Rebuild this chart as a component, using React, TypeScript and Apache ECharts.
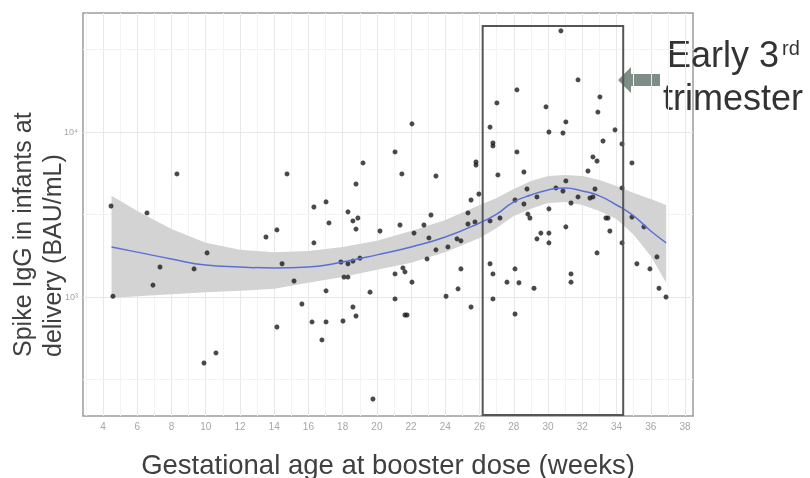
import React, { useEffect, useRef } from 'react';
import * as echarts from 'echarts';

// ---- data ----
const xTickLabels = [4, 6, 8, 10, 12, 14, 16, 18, 20, 22, 24, 26, 28, 30, 32, 34, 36, 38];
const xMinorGrid = [3, 5, 7, 9, 11, 13, 15, 17, 19, 21, 23, 25, 27, 29, 31, 33, 35, 37];
const yTickValues = [1000, 10000];
const yMinorGrid = [316.2, 3162, 31623];

// [gestational age (weeks), spike IgG (BAU/mL)]
const scatterPoints: [number, number][] = [
  [4.47, 3560], [4.58, 1010], [6.57, 3230], [6.92, 1180], [7.33, 1520], [8.32, 5570], [9.32, 1480],
  [10.08, 1850], [9.9, 398], [10.6, 458], [13.52, 2310], [14.16, 2550], [14.75, 5570], [14.46, 1590],
  [15.16, 1250], [14.16, 658], [15.62, 907],
  [16.32, 3510], [16.32, 2130], [17.03, 3770], [17.2, 2810], [17.03, 1090], [16.21, 706], [17.03, 706],
  [16.79, 549], [18.31, 3280], [18.6, 2890], [18.89, 3010], [18.78, 2580], [18.78, 4840], [19.19, 6490],
  [17.9, 1630], [18.31, 1590], [18.6, 1650], [19.01, 1720], [18.08, 1320], [18.31, 1320], [18.02, 715],
  [18.6, 870], [18.78, 767], [19.6, 1070], [19.77, 241], [20.18, 2510], [21.06, 7570], [21.46, 5570],
  [21.35, 2730], [21.06, 1380], [21.52, 1500], [21.64, 1420], [21.06, 973], [21.64, 778], [21.76, 778],
  [22.05, 11200], [22.17, 2440], [22.05, 1230], [22.75, 2730], [23.16, 3140], [23.45, 5410], [23.04, 2280],
  [22.93, 1700], [23.45, 1930], [24.15, 2010], [24.68, 2250], [24.91, 2190], [24.04, 1010], [24.74, 1120],
  [24.91, 1480], [25.5, 870], [25.32, 3230], [25.32, 2770], [25.73, 2850], [25.79, 6580], [25.79, 6310],
  [25.5, 3870], [25.96, 4210],
  [26.61, 10700], [26.78, 8580], [26.78, 8230], [27.01, 15000], [27.07, 5490], [26.61, 2890], [27.19, 3010],
  [26.61, 1590], [26.78, 1380], [26.78, 973], [27.6, 1230], [28.07, 1480], [28.3, 1220], [28.07, 789],
  [28.18, 18000], [28.18, 7570], [28.07, 3870], [28.59, 5720], [28.59, 3660], [28.77, 4510], [28.82, 3180],
  [28.94, 3010], [29.18, 1130], [29.35, 4040], [29.35, 2250], [29.58, 2440], [29.88, 14200], [30.05, 10000],
  [30.05, 3420], [30.05, 2440], [30.05, 2130], [30.46, 4580], [30.75, 41000], [30.87, 9860], [30.87, 4390],
  [31.04, 11500], [31.04, 5050], [31.04, 2660], [31.34, 3710], [31.34, 1380], [31.34, 1230], [31.75, 20700],
  [31.75, 4040], [32.33, 5800], [32.45, 3980], [32.62, 4040], [32.62, 7060], [32.86, 6670], [32.74, 4510],
  [32.86, 1850], [32.91, 13200], [33.03, 16300], [33.21, 8820], [33.38, 3010], [33.5, 3010], [33.61, 2510],
  [33.91, 10300], [34.32, 8460], [34.32, 4580], [34.32, 2130],
  [34.9, 6490], [34.9, 3050], [35.6, 2660], [35.19, 1590], [35.95, 1480], [36.36, 1750], [36.48, 1130],
  [36.89, 1000],
];

// loess fit and its confidence band
const curveWeeks = [4.5, 6, 8, 10, 12, 14, 16, 18, 20, 22, 24, 26, 27, 28, 29, 30, 31, 32, 33, 34, 35, 36, 36.9];
const curveFit = [2010, 1870, 1700, 1560, 1520, 1500, 1520, 1630, 1800, 2010, 2310, 2810, 3180, 3770, 4150, 4450, 4580, 4390, 4100, 3610, 3100, 2510, 2130];
const bandUpper = [4100, 3320, 2580, 2130, 1930, 1870, 1900, 2010, 2190, 2510, 2930, 3610, 3980, 4510, 5050, 5410, 5490, 5410, 5120, 4710, 4270, 3930, 3610];
const bandLower = [986, 1010, 1040, 1070, 1090, 1120, 1220, 1320, 1460, 1610, 1870, 2280, 2620, 3100, 3420, 3710, 3770, 3610, 3320, 2970, 2380, 1770, 1220];

// highlighted window (early 3rd trimester)
const boxWeeks = [26.18, 34.39];
const boxIgG = [193, 43900];

const X_MIN = 2.832;
const X_MAX = 38.467;
const Y_MIN = 190;
const Y_MAX = 52600;

const FONT = '"Liberation Sans", Arial, Helvetica, sans-serif';

export default function App() {
  const ref = useRef<HTMLDivElement>(null);

  useEffect(() => {
    if (!ref.current) return;
    const chart = echarts.init(ref.current, undefined, { renderer: 'svg' });

    const gridLines: any[] = [
      ...xMinorGrid.map((v) => ({ xAxis: v, lineStyle: { color: '#f3f3f3', width: 1, type: 'solid' } })),
      ...xTickLabels.map((v) => ({ xAxis: v, lineStyle: { color: '#e8e8e8', width: 1, type: 'solid' } })),
      ...yMinorGrid.map((v) => ({ yAxis: v, lineStyle: { color: '#f3f3f3', width: 1, type: 'solid' } })),
      ...yTickValues.map((v) => ({ yAxis: v, lineStyle: { color: '#e8e8e8', width: 1, type: 'solid' } })),
    ];

    const option: any = {
      animation: false,
      grid: {
        left: 83,
        right: 117,
        top: 13,
        bottom: 62,
        show: true,
        borderColor: '#9c9c9c',
        borderWidth: 1.5,
      },
      xAxis: {
        type: 'value',
        min: X_MIN,
        max: X_MAX,
        axisLine: { show: false },
        axisTick: { show: false },
        splitLine: { show: false },
        axisLabel: {
          customValues: xTickLabels,
          color: '#a6a6a6',
          fontSize: 10,
          margin: 5,
          fontFamily: FONT,
        },
      },
      yAxis: {
        type: 'log',
        logBase: 10,
        min: Y_MIN,
        max: Y_MAX,
        axisLine: { show: false },
        axisTick: { show: false },
        splitLine: { show: false },
        axisLabel: {
          customValues: yTickValues,
          color: '#a6a6a6',
          fontSize: 9,
          margin: 5,
          fontFamily: FONT,
          formatter: (v: number) => (Math.abs(v - 1000) < 1 ? '10³' : Math.abs(v - 10000) < 1 ? '10⁴' : ''),
        },
      },
      series: [
        {
          type: 'scatter',
          data: [],
          z: 0,
          silent: true,
          markLine: {
            z: 0,
            silent: true,
            symbol: ['none', 'none'],
            label: { show: false },
            animation: false,
            data: gridLines,
          },
        },
        {
          type: 'custom',
          z: 2,
          silent: true,
          data: curveWeeks.map((w, i) => [w, bandUpper[i], bandLower[i]]),
          encode: { x: 0, y: [1, 2] },
          renderItem: (params: any, api: any) => {
            if (params.dataIndex !== 0) return null;
            const up = curveWeeks.map((w, i) => api.coord([w, bandUpper[i]]));
            const lo = curveWeeks.map((w, i) => api.coord([w, bandLower[i]])).reverse();
            return {
              type: 'polygon',
              shape: { points: [...up, ...lo] },
              style: { fill: '#d3d3d3' },
            };
          },
        },
        {
          type: 'scatter',
          z: 3,
          data: scatterPoints,
          symbolSize: 5,
          itemStyle: { color: '#1c1c1c' },
        },
        {
          type: 'line',
          z: 4,
          data: curveWeeks.map((w, i) => [w, curveFit[i]]),
          smooth: true,
          showSymbol: false,
          lineStyle: { color: '#5b70d4', width: 1.5 },
        },
        {
          type: 'scatter',
          data: [],
          z: 5,
          silent: true,
          markArea: {
            z: 5,
            silent: true,
            itemStyle: { color: 'rgba(0,0,0,0)', borderColor: '#555555', borderWidth: 2 },
            data: [[{ coord: [boxWeeks[0], boxIgG[0]] }, { coord: [boxWeeks[1], boxIgG[1]] }]],
          },
        },
      ],
      graphic: [
        {
          type: 'polygon',
          shape: { points: [[618, 80], [631, 67], [631, 74], [660, 74], [660, 86], [631, 86], [631, 93]] },
          style: { fill: '#7d8e86' },
        },
        {
          type: 'text',
          x: 667,
          y: 54,
          style: { text: 'Early 3', font: `36px ${FONT}`, fill: '#333333', textAlign: 'left', textVerticalAlign: 'middle' },
        },
        {
          type: 'text',
          x: 782,
          y: 48,
          style: { text: 'rd', font: `20px ${FONT}`, fill: '#333333', textAlign: 'left', textVerticalAlign: 'middle' },
        },
        {
          type: 'text',
          x: 663,
          y: 97,
          style: { text: 'trimester', font: `36px ${FONT}`, fill: '#333333', textAlign: 'left', textVerticalAlign: 'middle' },
        },
        {
          type: 'text',
          x: 388,
          y: 464,
          style: {
            text: 'Gestational age at booster dose (weeks)',
            font: `27.5px ${FONT}`,
            fill: '#404040',
            textAlign: 'center',
            textVerticalAlign: 'middle',
          },
        },
        {
          type: 'text',
          x: 22,
          y: 357,
          rotation: Math.PI / 2,
          style: {
            text: 'Spike IgG in infants at',
            font: `25px ${FONT}`,
            fill: '#404040',
            textAlign: 'left',
            textVerticalAlign: 'middle',
          },
        },
        {
          type: 'text',
          x: 52,
          y: 357,
          rotation: Math.PI / 2,
          style: {
            text: 'delivery (BAU/mL)',
            font: `25px ${FONT}`,
            fill: '#404040',
            textAlign: 'left',
            textVerticalAlign: 'middle',
          },
        },
      ],
    };

    chart.setOption(option);
    return () => chart.dispose();
  }, []);

  return <div ref={ref} style={{ position: 'fixed', left: 0, top: 0, width: 810, height: 478 }} />;
}
